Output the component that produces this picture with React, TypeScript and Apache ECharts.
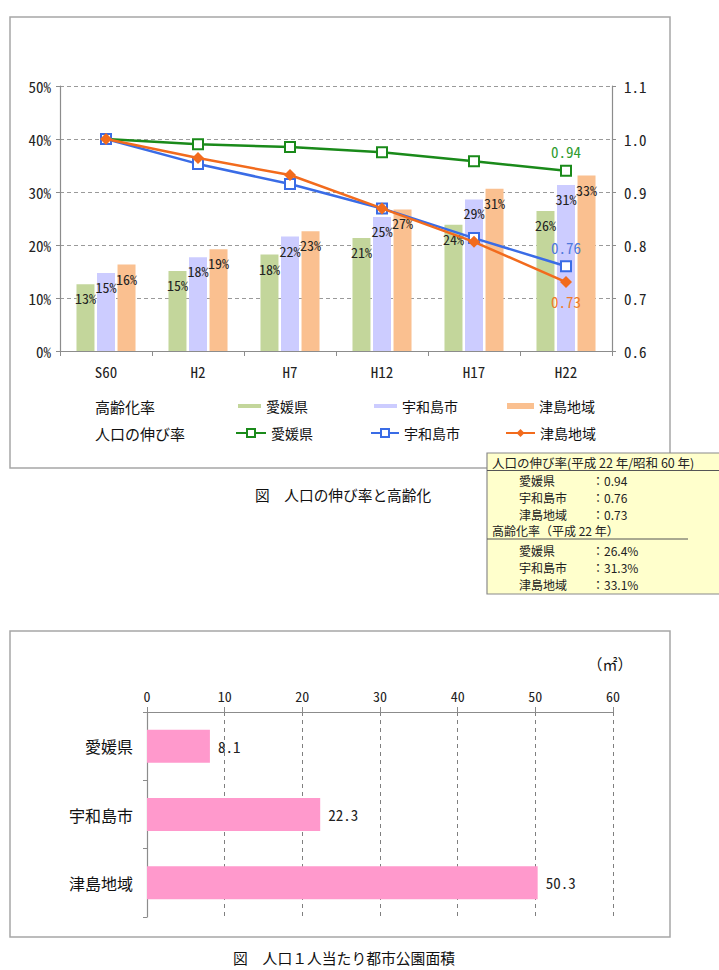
import React, { useEffect, useRef } from "react";
import * as echarts from "echarts";

// 高齢化率・人口の伸び率（S60 = 1.0）
const years = ["S60", "H2", "H7", "H12", "H17", "H22"];
const agingEhime = [12.6, 15.1, 18.2, 21.3, 23.8, 26.4];
const agingUwajima = [14.7, 17.7, 21.6, 25.3, 28.6, 31.3];
const agingTsushima = [16.3, 19.2, 22.6, 26.7, 30.6, 33.1];
const growthEhime = [1.0, 0.99, 0.985, 0.975, 0.958, 0.94];
const growthUwajima = [1.0, 0.953, 0.915, 0.869, 0.813, 0.76];
const growthTsushima = [1.0, 0.964, 0.932, 0.869, 0.806, 0.73];
const regions = ["愛媛県", "宇和島市", "津島地域"];

// 人口1人当たり都市公園面積（㎡）
const parkAreas = ["愛媛県", "宇和島市", "津島地域"];
const parkPerCapita = [8.1, 22.3, 50.3];

const CJK = '"Noto Sans CJK JP", "Noto Sans", sans-serif';
const MONO = '"Noto Sans Mono CJK JP", "Liberation Mono", monospace';

const barColors = ["#C3D69B", "#CCCCFF", "#FAC090"];
const lineColors = ["#1A8A1A", "#3A6CE6", "#F26B1D"];
const endLabelColors = ["#2E9B2E", "#4F78DD", "#F07A2A"];

const agingSeries = [agingEhime, agingUwajima, agingTsushima];
const growthSeries = [growthEhime, growthUwajima, growthTsushima];

function txt(text: string, x: number, y: number, size: number, opts: any = {}) {
  return {
    type: "text",
    x,
    y,
    z: opts.z ?? 50,
    style: {
      text,
      fill: opts.fill ?? "#111",
      font: `${opts.weight ?? "normal"} ${size}px ${opts.family ?? CJK}`,
      align: opts.align ?? "left",
      verticalAlign: "middle",
      textAlign: opts.align ?? "left",
      textVerticalAlign: "middle",
    },
  };
}

function hline(x1: number, x2: number, y: number, color: string, z = 60) {
  return {
    type: "line",
    z,
    shape: { x1, y1: y, x2, y2: y },
    style: { stroke: color, lineWidth: 1 },
  };
}

export default function App() {
  const ref = useRef<HTMLDivElement>(null);

  useEffect(() => {
    if (!ref.current) return;
    const chart = echarts.init(ref.current, null, { renderer: "svg" });
    const last = years.length - 1;

    const barSeries = regions.map((r, i) => ({
      name: `高齢化率 ${r}`,
      type: "bar",
      xAxisIndex: 0,
      yAxisIndex: 0,
      barWidth: 18,
      barGap: "14%",
      data: agingSeries[i],
      itemStyle: { color: barColors[i] },
      label: {
        show: true,
        position: "insideTop",
        distance: 7,
        formatter: (p: any) => `${Math.round(p.value)}%`,
        fontFamily: MONO,
        fontSize: 14,
        color: "#222",
      },
      z: 2,
    }));

    const endLabelPos = ["top", "top", "bottom"];
    const endLabelDist = [6, 5, 6];
    const lineSeries = regions.map((r, i) => ({
      name: `人口の伸び率 ${r}`,
      type: "line",
      xAxisIndex: 0,
      yAxisIndex: 1,
      symbol: i === 2 ? "diamond" : "emptyRect",
      symbolSize: i === 2 ? 12 : 10,
      lineStyle: { color: lineColors[i], width: 2.5 },
      itemStyle: { color: lineColors[i], borderWidth: 2 },
      data: growthSeries[i].map((v, k) =>
        k === last
          ? {
              value: v,
              label: {
                show: true,
                position: endLabelPos[i],
                distance: endLabelDist[i],
                formatter: (p: any) => Number(p.value).toFixed(2),
                fontFamily: MONO,
                fontSize: 15,
                color: endLabelColors[i],
              },
            }
          : v
      ),
      z: 5 + i,
    }));

    const parkSeries = {
      name: "都市公園面積",
      type: "bar",
      xAxisIndex: 1,
      yAxisIndex: 2,
      barWidth: 33,
      data: parkPerCapita,
      itemStyle: { color: "#FF99CC" },
      label: {
        show: true,
        position: "right",
        distance: 8,
        formatter: (p: any) => Number(p.value).toFixed(1),
        fontFamily: MONO,
        fontSize: 15,
        color: "#222",
      },
    };

    const legendCols = [
      { bar: 238, barW: 23, barH: 4, line: 235, lineW: 30 },
      { bar: 374, barW: 23, barH: 4, line: 370, lineW: 28 },
      { bar: 507, barW: 27, barH: 6, line: 505, lineW: 29 },
    ];
    const legendText = {
      fontFamily: CJK,
      fontSize: 14,
      color: "#111",
    };
    const legends: any[] = [];
    regions.forEach((r, i) => {
      legends.push({
        data: [`高齢化率 ${r}`],
        left: legendCols[i].bar,
        top: 399,
        padding: 0,
        icon: "rect",
        itemWidth: legendCols[i].barW,
        itemHeight: legendCols[i].barH,
        selectedMode: false,
        formatter: (n: string) => n.split(" ")[1],
        textStyle: legendText,
      });
      legends.push({
        data: [`人口の伸び率 ${r}`],
        left: legendCols[i].line,
        top: 426,
        padding: 0,
        itemWidth: legendCols[i].lineW,
        itemHeight: 10,
        selectedMode: false,
        formatter: (n: string) => n.split(" ")[1],
        textStyle: legendText,
      });
    });

    const axisGray = "#8C8C8C";
    const tbX = 487;
    const tbIndent = 519;
    const tbColon = 592;
    const tbFont = 12;
    const tbRows = [
      { label: regions[0], value: growthEhime[last].toFixed(2), y: 480 },
      { label: regions[1], value: growthUwajima[last].toFixed(2), y: 497 },
      { label: regions[2], value: growthTsushima[last].toFixed(2), y: 514 },
      { label: regions[0], value: `${agingEhime[last].toFixed(1)}%`, y: 550 },
      { label: regions[1], value: `${agingUwajima[last].toFixed(1)}%`, y: 567 },
      { label: regions[2], value: `${agingTsushima[last].toFixed(1)}%`, y: 584 },
    ];

    const graphic: any[] = [
      // chart frames
      {
        type: "rect",
        z: 0,
        shape: { x: 10, y: 17, width: 660, height: 451 },
        style: { fill: "none", stroke: "#A6A6A6", lineWidth: 1.5 },
      },
      {
        type: "rect",
        z: 0,
        shape: { x: 10, y: 631, width: 660, height: 306 },
        style: { fill: "none", stroke: "#A6A6A6", lineWidth: 1.5 },
      },
      // legend row headers
      txt("高齢化率", 95, 406, 15),
      txt("人口の伸び率", 95, 433, 15),
      // captions
      txt("図　人口の伸び率と高齢化", 343, 494, 14.7, { align: "center" }),
      txt("図　人口１人当たり都市公園面積", 344, 957, 14.8, { align: "center" }),
      // unit
      txt("（㎡）", 610, 663, 15, { align: "center" }),
      // summary box
      {
        type: "rect",
        z: 55,
        shape: { x: tbX, y: 453, width: 240, height: 141 },
        style: { fill: "#FFFFCC", stroke: "#8A8A8A", lineWidth: 1.2 },
      },
      txt("人口の伸び率(平成 22 年/昭和 60 年)", 492, 462.5, 12.5, { z: 60, fill: "#222" }),
      hline(tbX, 719, 470.5, "#555"),
      txt("高齢化率（平成 22 年）", 492, 530.5, tbFont, { z: 60, fill: "#222" }),
      hline(tbX, 688, 539, "#555"),
      ...tbRows.flatMap((row) => [
        txt(row.label, tbIndent, row.y, tbFont, { z: 60, fill: "#222" }),
        txt(`：${row.value}`, tbColon, row.y, tbFont, { z: 60, fill: "#222" }),
      ]),
    ];

    chart.setOption({
      animation: false,
      backgroundColor: "#fff",
      grid: [
        { left: 60, top: 86, width: 552, height: 265, containLabel: false },
        { left: 147, top: 712, width: 466, height: 205, containLabel: false },
      ],
      xAxis: [
        {
          type: "category",
          gridIndex: 0,
          data: years,
          boundaryGap: true,
          axisLine: { lineStyle: { color: axisGray, width: 1.2 } },
          axisTick: { show: true, length: 5, lineStyle: { color: axisGray } },
          axisLabel: { fontFamily: MONO, fontSize: 15, color: "#222", margin: 13 },
          splitLine: { show: false },
        },
        {
          type: "value",
          gridIndex: 1,
          position: "top",
          min: 0,
          max: 60,
          interval: 10,
          axisLine: { show: true, lineStyle: { color: axisGray, width: 1.2 } },
          axisTick: { show: true, length: 5, lineStyle: { color: axisGray } },
          axisLabel: { fontFamily: MONO, fontSize: 14, color: "#222", margin: 9 },
          splitLine: { show: true, lineStyle: { color: "#7F7F7F", type: [4, 4], width: 1 } },
        },
      ],
      yAxis: [
        {
          type: "value",
          gridIndex: 0,
          position: "left",
          min: 0,
          max: 50,
          interval: 10,
          axisLine: { show: true, lineStyle: { color: axisGray, width: 1.2 } },
          axisTick: { show: true, length: 4, lineStyle: { color: axisGray } },
          axisLabel: { formatter: "{value}%", fontFamily: MONO, fontSize: 15, color: "#222", margin: 9 },
          splitLine: { show: true, lineStyle: { color: "#9A9A9A", type: [4, 3], width: 1 } },
        },
        {
          type: "value",
          gridIndex: 0,
          position: "right",
          min: 0.6,
          max: 1.1,
          interval: 0.1,
          axisLine: { show: true, lineStyle: { color: axisGray, width: 1.2 } },
          axisTick: { show: true, length: 4, lineStyle: { color: axisGray } },
          axisLabel: {
            formatter: (v: number) => v.toFixed(1),
            fontFamily: MONO,
            fontSize: 15,
            color: "#222",
            margin: 12,
          },
          splitLine: { show: false },
        },
        {
          type: "category",
          gridIndex: 1,
          data: parkAreas,
          inverse: true,
          axisLine: { show: true, lineStyle: { color: axisGray, width: 1.2 } },
          axisTick: { show: true, length: 4, lineStyle: { color: axisGray } },
          axisLabel: { fontFamily: CJK, fontSize: 16, color: "#111", margin: 14 },
          splitLine: { show: false },
        },
      ],
      legend: legends,
      series: [...barSeries, ...lineSeries, parkSeries],
      graphic,
    });

    return () => chart.dispose();
  }, []);

  return (
    <div
      ref={ref}
      style={{ position: "absolute", left: 0, top: 0, width: 719, height: 970 }}
    />
  );
}
